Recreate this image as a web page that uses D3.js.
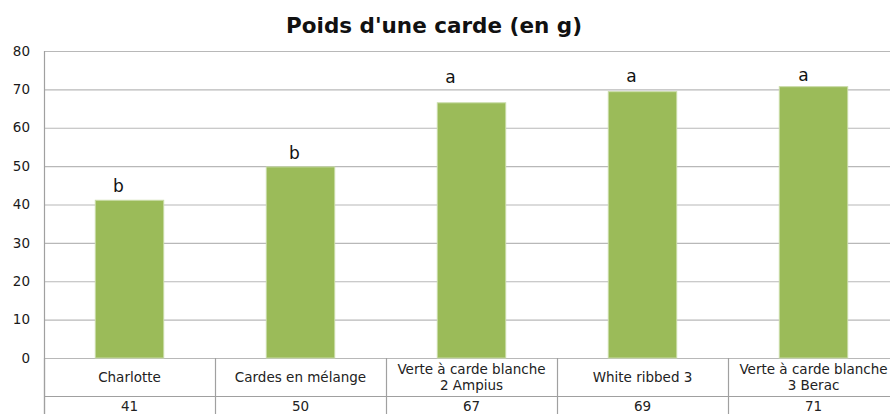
<!DOCTYPE html>
<html>
<head>
<meta charset="utf-8">
<script src="https://cdn.jsdelivr.net/npm/d3@7"></script>
<style>
  body { margin: 0; background: #fff; }
  svg { display: block; }
</style>
</head>
<body>
<svg id="chart"></svg>
<script>
// data
var categories = ["Charlotte", "Cardes en mélange", "Verte à carde blanche\n2 Ampius", "White ribbed 3", "Verte à carde blanche\n3 Berac"];
var values = [41.1, 49.8, 66.5, 69.4, 70.7];
var tableValues = ["41", "50", "67", "69", "71"];
var letters = ["b", "b", "a", "a", "a"];
// where the letters sit, in chart units (placed by hand in the original)
var letterLevel = [44.8, 53.4, 73.2, 73.4, 73.7];
var yTicks = [0, 10, 20, 30, 40, 50, 60, 70, 80];

var W = 890, H = 414;
var margin = {top: 51, left: 44, right: -9, bottom: 56};
var width = W - margin.left - margin.right,
    height = H - margin.top - margin.bottom;

var font = "'DejaVu Sans', Verdana, sans-serif";

var svg = d3.select("#chart").attr("width", W).attr("height", H);

var x = d3.scaleBand().domain(d3.range(categories.length)).range([0, width]).padding(0);
var y = d3.scaleLinear().domain([0, 80]).range([height, 0]);

var g = svg.append("g").attr("transform", "translate(" + margin.left + "," + margin.top + ")");

// title
svg.append("text")
    .attr("x", 434).attr("y", 25)
    .attr("dy", "0.35em")
    .attr("text-anchor", "middle")
    .style("font-family", font)
    .style("font-weight", "bold")
    .style("font-size", "21.5px")
    .style("fill", "#111")
    .text("Poids d'une carde (en g)");

// gridlines
g.selectAll(".grid")
    .data(yTicks)
  .enter().append("line")
    .attr("x1", 0).attr("x2", width)
    .attr("y1", function(d) { return y(d) + 0.5; })
    .attr("y2", function(d) { return y(d) + 0.5; })
    .style("stroke", "#b8b8b8")
    .style("stroke-width", 1.2);

// y labels
g.selectAll(".ylab")
    .data(yTicks)
  .enter().append("text")
    .attr("x", -14).attr("y", function(d) { return y(d); })
    .attr("dy", "0.35em")
    .attr("text-anchor", "end")
    .style("font-family", font)
    .style("font-size", "13.5px")
    .style("fill", "#1a1a1a")
    .text(function(d) { return d; });

// bars
var bw = x.bandwidth() * 0.4;
g.selectAll(".bar")
    .data(values)
  .enter().append("rect")
    .attr("x", function(d, i) { return x(i) + (x.bandwidth() - bw) / 2; })
    .attr("y", function(d) { return y(d); })
    .attr("width", bw)
    .attr("height", function(d) { return height - y(d); })
    .style("fill", "#9bbb59")
    .style("stroke", "#c8dba6")
    .style("stroke-width", 1);

// significance letters
var letterShift = [-11, -6, -21, -11, -10];
g.selectAll(".letter")
    .data(letters)
  .enter().append("text")
    .attr("x", function(d, i) { return x(i) + x.bandwidth() / 2 + letterShift[i]; })
    .attr("y", function(d, i) { return y(letterLevel[i]); })
    .attr("dy", "0.35em")
    .attr("text-anchor", "middle")
    .style("font-family", font)
    .style("font-size", "17px")
    .style("fill", "#111")
    .text(function(d) { return d; });

// y axis line
g.append("line")
    .attr("x1", 0.5).attr("x2", 0.5)
    .attr("y1", 0).attr("y2", H - margin.top)
    .style("stroke", "#a0a0a0").style("stroke-width", 1.2);

// data table
var row1 = height + 38;
g.selectAll(".colline")
    .data(d3.range(categories.length + 1))
  .enter().append("line")
    .attr("x1", function(d) { return d === 0 ? 0.5 : x(d - 1) + x.bandwidth() + 0.5; })
    .attr("x2", function(d) { return d === 0 ? 0.5 : x(d - 1) + x.bandwidth() + 0.5; })
    .attr("y1", height).attr("y2", H - margin.top)
    .style("stroke", "#a0a0a0").style("stroke-width", 1.2);

g.append("line")
    .attr("x1", 0).attr("x2", width)
    .attr("y1", row1 + 0.5).attr("y2", row1 + 0.5)
    .style("stroke", "#a0a0a0").style("stroke-width", 1.2);

var cat = g.selectAll(".cat")
    .data(categories)
  .enter().append("text")
    .attr("text-anchor", "middle")
    .style("font-family", font)
    .style("font-size", "13.5px")
    .style("fill", "#222");

cat.each(function(d, i) {
  var lines = d.split("\n");
  var t = d3.select(this);
  var cy = height + 19 - (lines.length - 1) * 8;
  lines.forEach(function(l, j) {
    t.append("tspan")
      .attr("x", x(i) + x.bandwidth() / 2)
      .attr("y", cy + j * 16)
      .attr("dy", "0.35em")
      .text(l);
  });
});

g.selectAll(".tv")
    .data(tableValues)
  .enter().append("text")
    .attr("x", function(d, i) { return x(i) + x.bandwidth() / 2; })
    .attr("y", row1 + 10)
    .attr("dy", "0.35em")
    .attr("text-anchor", "middle")
    .style("font-family", font)
    .style("font-size", "13.5px")
    .style("fill", "#222")
    .text(function(d) { return d; });
</script>
</body>
</html>
